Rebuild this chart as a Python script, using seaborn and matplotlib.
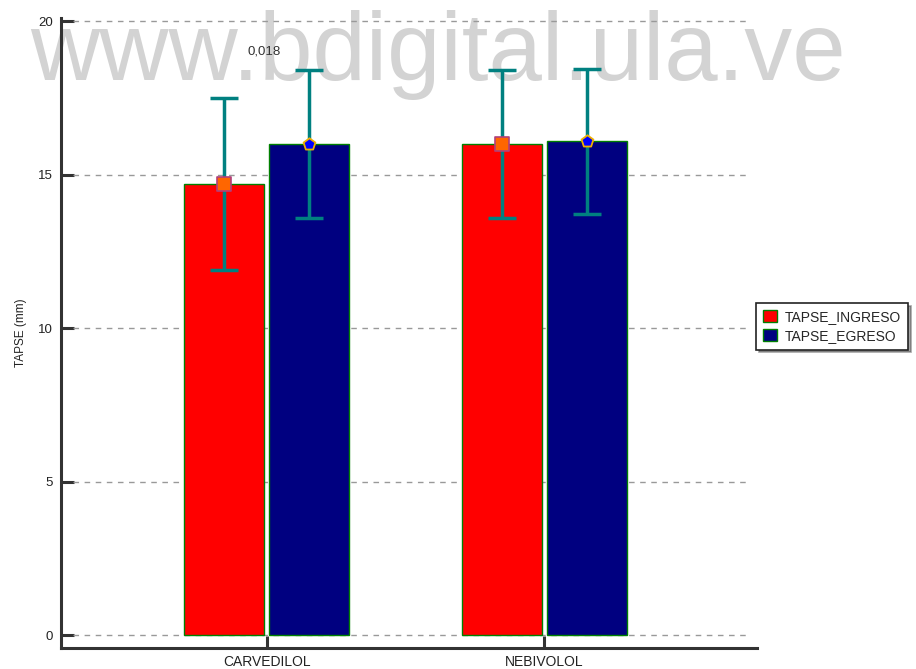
import matplotlib
matplotlib.use("Agg")
import matplotlib.pyplot as plt
import seaborn as sns
import pandas as pd
from matplotlib.patches import Patch

sns.set_style("white")
plt.rcParams['font.family'] = ['Liberation Sans', 'DejaVu Sans']

categories = ["CARVEDILOL", "NEBIVOLOL"]
series = ["TAPSE_INGRESO", "TAPSE_EGRESO"]
ingreso = [14.7, 16.0]
egreso = [16.0, 16.08]
ingreso_err = [2.8, 2.42]
egreso_err = [2.42, 2.35]
yticks = [0, 5, 10, 15, 20]
annotation = "0,018"
ylabel = "TAPSE (mm)"
watermark = "www.bdigital.ula.ve"

bar_colors = ["#FF0000", "#000080"]

df = pd.DataFrame({
    "cat": categories * 2,
    "serie": [series[0]] * 2 + [series[1]] * 2,
    "val": ingreso + egreso,
})

fig = plt.figure(figsize=(9.16, 6.69), dpi=100)
ax = fig.add_axes([61/916, 21/669, (757-61)/916, (669-21-18)/669])

sns.barplot(data=df, x="cat", y="val", hue="serie", order=categories,
            hue_order=series, palette=bar_colors, width=0.614, gap=0.06,
            saturation=1, errorbar=None, edgecolor="#008000", linewidth=1.0,
            ax=ax, legend=False, zorder=2)

# bar positions from the library
def centers_of(container):
    return [p.get_x() + p.get_width() / 2 for p in container]

xr = centers_of(ax.containers[0])
xn = centers_of(ax.containers[1])

ax.errorbar(xr, ingreso, yerr=ingreso_err, fmt="none", ecolor="#008080",
            elinewidth=2.5, capsize=10, capthick=2.5, zorder=4)
ax.errorbar(xn, egreso, yerr=egreso_err, fmt="none", ecolor="#008080",
            elinewidth=2.5, capsize=10, capthick=2.5, zorder=4)
ax.scatter(xr, ingreso, marker="s", s=90, c="#FF6600", edgecolors="#B0407A",
           linewidths=1.2, zorder=5)
ax.scatter(xn, egreso, marker="p", s=80, c="#0000FF", edgecolors="#F0B000",
           linewidths=1.3, zorder=5)

ax.text((xr[0] + xn[0]) / 2 - 0.01, 19.0, annotation, ha="center",
        va="center", fontsize=9.5, color="#333333", zorder=6)

ax.set_ylim(-0.42, 20.1)
ax.set_xlim(-0.74, 1.765)
ax.set_yticks(yticks)
ax.set_yticklabels([str(t) for t in yticks])
for t in yticks:
    ax.axhline(t, xmin=0.017, xmax=0.985, color="#999999", lw=1.0,
               ls=(0, (4, 4)), zorder=1)

for side in ["top", "right"]:
    ax.spines[side].set_visible(False)
for side in ["left", "bottom"]:
    ax.spines[side].set_linewidth(2.2)
    ax.spines[side].set_color("#333333")

ax.tick_params(axis="both", direction="in", length=9, width=2.2,
               left=True, bottom=True,
               color="#333333", labelsize=9.5, labelcolor="#222222", pad=6)
ax.tick_params(axis="x", pad=5, labelsize=10)
ax.set_xlabel("")
ax.set_ylabel(ylabel, fontsize=8.5, color="#222222", labelpad=8)

handles = [Patch(facecolor=c, edgecolor="#008000", lw=1.0) for c in bar_colors]
leg = fig.legend(handles, series, loc="upper left",
                 bbox_to_anchor=(749/916, 1 - 296/669), frameon=True,
                 fancybox=False, shadow=True, fontsize=10,
                 handlelength=1.0, handleheight=1.0, borderpad=0.5,
                 labelspacing=0.35, handletextpad=0.6)
leg.get_frame().set_edgecolor("#222222")
leg.get_frame().set_linewidth(1.2)

ax.text(438/916, 1 - 80/669, watermark, transform=fig.transFigure,
        ha="center", va="baseline", fontsize=69, color="#D3D3D3",
        zorder=0.5, clip_on=False)

fig.savefig("out.png", dpi=100)
